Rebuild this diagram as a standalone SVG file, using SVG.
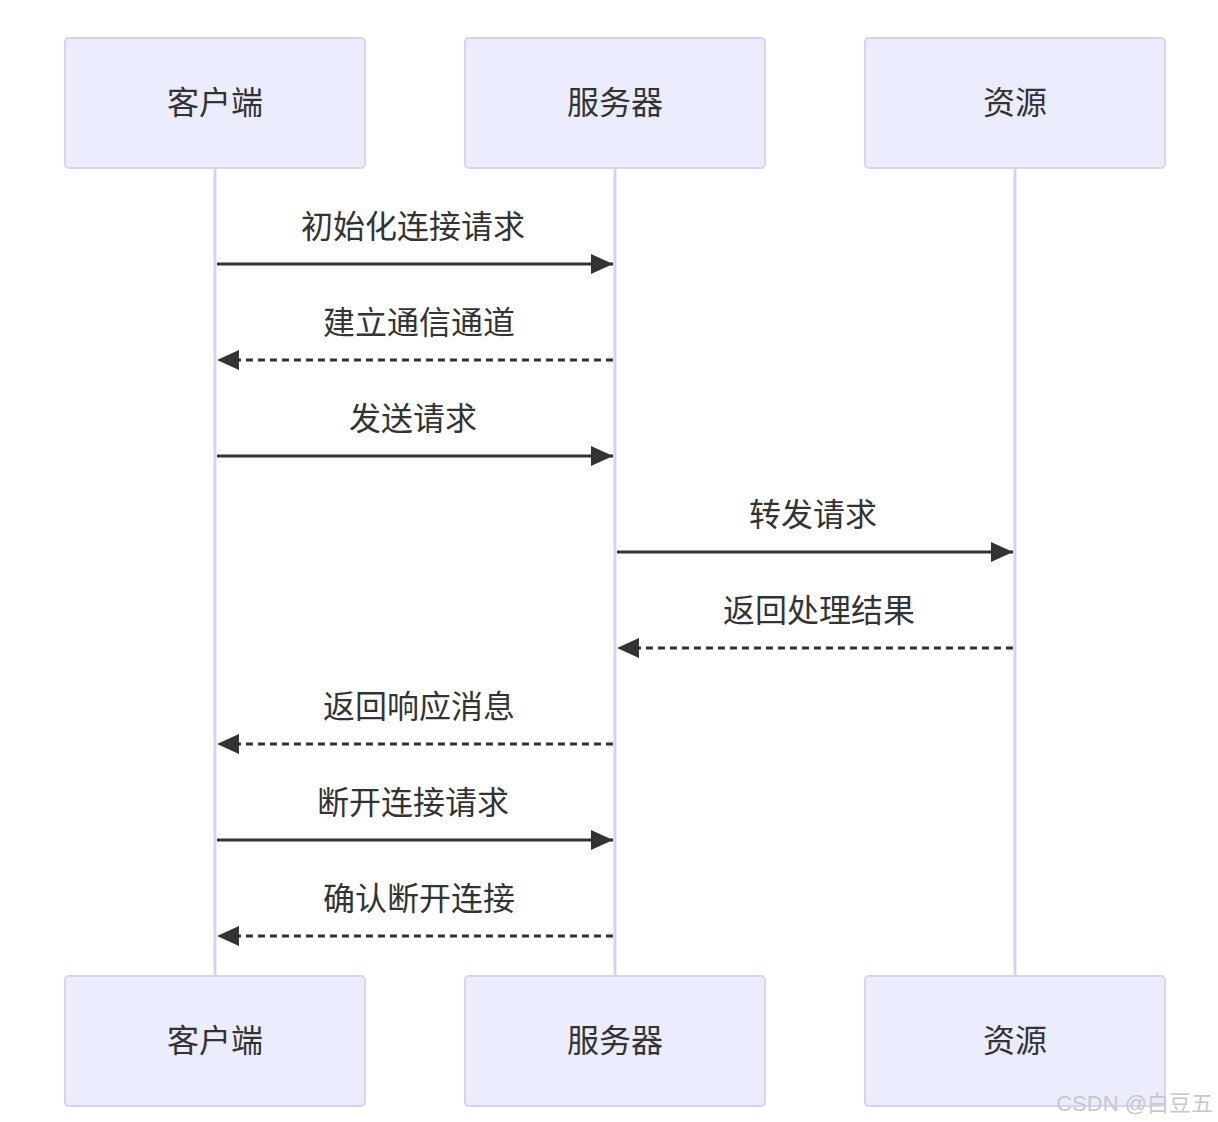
<svg xmlns="http://www.w3.org/2000/svg" width="1218" height="1122" viewBox="0 0 1218 1122">
<style>
.box{fill:#ECECFF;stroke:#D9D2F3;stroke-width:2}
.life{stroke:#DAD0F3;stroke-width:3}
.t{font-family:"Noto Sans CJK SC","Liberation Sans",sans-serif;font-size:32px;fill:#333;text-anchor:middle}
.m{stroke:#333;stroke-width:3;fill:none}
.d{stroke-dasharray:7,5}
</style>
<defs>
<marker id="ah" markerWidth="22" markerHeight="20" refX="22" refY="10" orient="auto" markerUnits="userSpaceOnUse">
<path d="M0,0 L22,10 L0,20 Z" fill="#333"/>
</marker>
</defs>
<rect width="1218" height="1122" fill="#fff"/>
<g id="lifelines">
<line class="life" x1="215" y1="168" x2="215" y2="976"/>
<line class="life" x1="615" y1="168" x2="615" y2="976"/>
<line class="life" x1="1015" y1="168" x2="1015" y2="976"/>
</g>
<g id="client-top"><rect class="box" x="65" y="38" width="300" height="130" rx="4"/><text class="t" x="215" y="114">客户端</text></g>
<g id="server-top"><rect class="box" x="465" y="38" width="300" height="130" rx="4"/><text class="t" x="615" y="114">服务器</text></g>
<g id="res-top"><rect class="box" x="865" y="38" width="300" height="130" rx="4"/><text class="t" x="1015" y="114">资源</text></g>
<g id="client-bot"><rect class="box" x="65" y="976" width="300" height="130" rx="4"/><text class="t" x="215" y="1052">客户端</text></g>
<g id="server-bot"><rect class="box" x="465" y="976" width="300" height="130" rx="4"/><text class="t" x="615" y="1052">服务器</text></g>
<g id="res-bot"><rect class="box" x="865" y="976" width="300" height="130" rx="4"/><text class="t" x="1015" y="1052">资源</text></g>
<g id="connectors">
<line class="m" x1="217" y1="264" x2="613" y2="264" marker-end="url(#ah)"/>
<text class="t" x="413" y="238">初始化连接请求</text>
<line class="m d" x1="613" y1="360" x2="217" y2="360" marker-end="url(#ah)"/>
<text class="t" x="419" y="334">建立通信通道</text>
<line class="m" x1="217" y1="456" x2="613" y2="456" marker-end="url(#ah)"/>
<text class="t" x="413" y="430">发送请求</text>
<line class="m" x1="617" y1="552" x2="1013" y2="552" marker-end="url(#ah)"/>
<text class="t" x="813" y="526">转发请求</text>
<line class="m d" x1="1013" y1="648" x2="617" y2="648" marker-end="url(#ah)"/>
<text class="t" x="819" y="622">返回处理结果</text>
<line class="m d" x1="613" y1="744" x2="217" y2="744" marker-end="url(#ah)"/>
<text class="t" x="419" y="718">返回响应消息</text>
<line class="m" x1="217" y1="840" x2="613" y2="840" marker-end="url(#ah)"/>
<text class="t" x="413" y="814">断开连接请求</text>
<line class="m d" x1="613" y1="936" x2="217" y2="936" marker-end="url(#ah)"/>
<text class="t" x="419" y="910">确认断开连接</text>
</g>
<text x="1213" y="1111" font-family="'Liberation Sans','Noto Sans CJK SC',sans-serif" font-size="22" fill="#c8c8c8" text-anchor="end">CSDN @白豆五</text>
</svg>
